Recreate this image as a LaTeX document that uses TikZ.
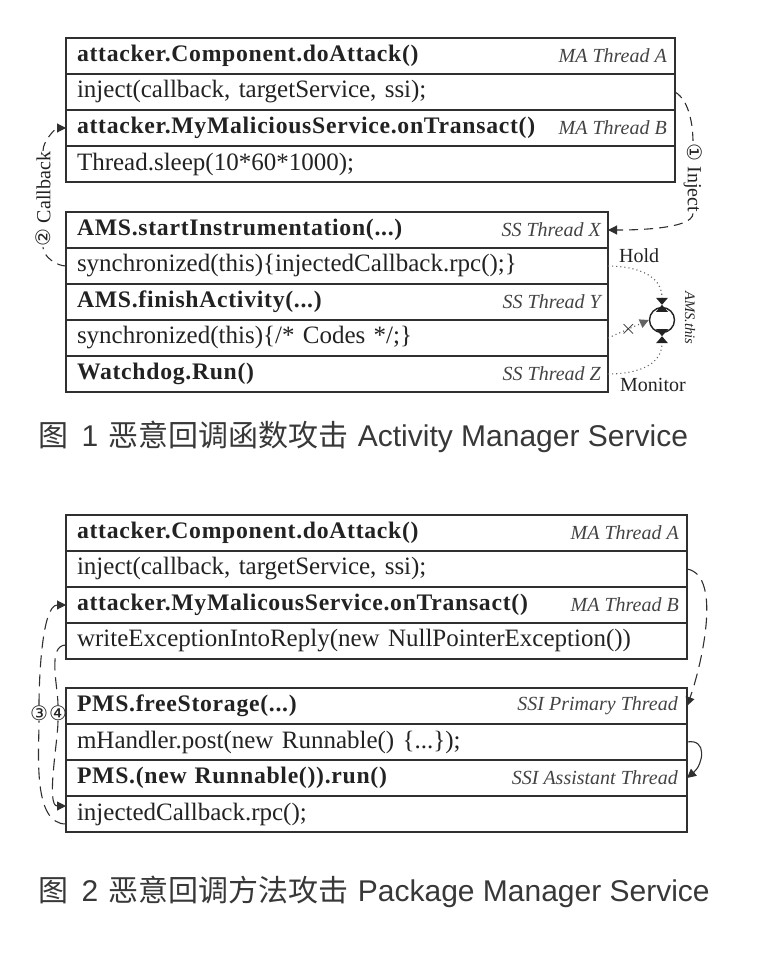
\documentclass[tikz,border=0pt]{standalone}
\usepackage{fontspec}
\setmainfont{Liberation Serif}
\setsansfont{Liberation Sans}
\newfontfamily\cjk{Noto Sans CJK SC}
\newfontfamily\symf{DejaVu Sans}
\usetikzlibrary{positioning,arrows.meta}

\definecolor{boxline}{HTML}{303030}
\definecolor{ink}{HTML}{222222}

\tikzset{
  row/.style={draw=boxline, line width=1.4pt, minimum height=36pt, text width=#1,
    inner xsep=11pt, inner ysep=0pt, outer sep=0pt, align=left, anchor=north west,
    text=ink, font=\fontsize{25}{27}\selectfont},
  head/.style={row=#1, font=\fontsize{23.7}{26}\selectfont\bfseries\addfontfeatures{LetterSpace=3}},
  thr/.style={anchor=east, inner sep=0pt, text=ink!85, font=\fontsize{20}{22}\selectfont\itshape},
  lbl/.style={inner sep=1pt, text=ink, font=\fontsize{20}{22}\selectfont},
  numc/.style={inner sep=0pt, text=ink, font=\symf\fontsize{20}{22}\selectfont},
  dashline/.style={draw=boxline, line width=1.1pt, dash pattern=on 9pt off 6pt},
  longdash/.style={draw=boxline, line width=1.1pt, dash pattern=on 12pt off 7pt},
  holdline/.style={draw=ink!70, line width=1.1pt, dash pattern=on 1.1pt off 3pt},
  tip/.style={-{Triangle[length=9pt,width=9pt]}},
  capt/.style={anchor=west, inner sep=0pt, text=ink!90, font=\sffamily\fontsize{30}{32}\selectfont}
}

\begin{document}
\begin{tikzpicture}[x=1pt, y=-1pt]
  \useasboundingbox (0,0) rectangle (764,956);

  % figure 1: attacker side
  \node[head=587pt] (a1) at (66,38) {attacker.Component.doAttack()};
  \node[row=587pt, below=0pt of a1] (a2) {inject(callback, targetService, ssi);};
  \node[head=587pt, below=0pt of a2] (a3) {attacker.MyMaliciousService.onTransact()};
  \node[row=587pt, below=0pt of a3] (a4) {Thread.sleep(10*60*1000);};
  \node[thr] at ([xshift=-8pt]a1.east) {MA Thread A};
  \node[thr] at ([xshift=-8pt]a3.east) {MA Thread B};

  % figure 1: system server side
  \node[head=520pt] (x1) at (66,212) {AMS.startInstrumentation(...)};
  \node[row=520pt, below=0pt of x1] (x2) {synchronized(this)\{injectedCallback.rpc();\}};
  \node[head=520pt, below=0pt of x2] (x3) {AMS.finishActivity(...)};
  \node[row=520pt, below=0pt of x3] (x4) {synchronized(this)\{/* Codes */;\}};
  \node[head=520pt, below=0pt of x4] (x5) {Watchdog.Run()};
  \node[thr] at ([xshift=-7pt]x1.east) {SS Thread X};
  \node[thr] at ([xshift=-7pt]x3.east) {SS Thread Y};
  \node[thr] at ([xshift=-7pt]x5.east) {SS Thread Z};

  % inject / callback
  \node[lbl, rotate=-90] (inj) at (693,178) {{\symf\fontsize{20}{22}\selectfont ①} Inject};
  \draw[dashline] (a2.east) to[out=-30, in=90, looseness=0.8] (inj.west);
  \draw[dashline, tip] (inj.east) to[out=-90, in=0, looseness=0.5] (x1.east);
  \node[lbl, rotate=90] (cbk) at (43,199) {{\symf\fontsize{20}{22}\selectfont ②} Callback};
  \draw[dashline] (x2.west) to[out=180, in=-90, looseness=0.8] (cbk.west);
  \draw[dashline, tip] (cbk.east) to[out=90, in=180, looseness=0.8] (a3.west);

  % lock on AMS.this
  \node[draw=ink, line width=1.4pt, circle, minimum size=25pt, inner sep=0pt] (lk) at (662,320) {};
  \node[lbl, rotate=-90, font=\fontsize{14.5}{16}\selectfont\itshape] (lkname) at (690,318) {AMS.this};
  \coordinate (hgt) at ([yshift=2pt]lk.north);
  \coordinate (hgb) at ([yshift=-3pt]lk.south);
  \fill[ink] (hgt) -- ++(-6,-7) -- ++(12,0) -- cycle (hgt) -- ++(-6,7) -- ++(12,0) -- cycle;
  \fill[ink] (hgb) -- ++(-6,-7) -- ++(12,0) -- cycle (hgb) -- ++(-6,7) -- ++(12,0) -- cycle;
  \draw[holdline] (x2.east) to[out=0, in=90] ([yshift=7pt]hgt);
  \draw[holdline] (x5.east) to[out=0, in=-90] ([yshift=-7pt]hgb);
  \draw[holdline, tip] (x4.east) -- node[pos=0.5, inner sep=0pt, text=ink, font=\fontsize{20}{20}\selectfont] {$\times$} (lk.west);
  \node[lbl, anchor=south west] (hold) at ([xshift=10pt, yshift=2pt]x2.east) {Hold};
  \node[lbl, anchor=north west] (mon) at ([xshift=11pt, yshift=-3pt]x5.east) {Monitor};

  \node[capt] (cap1) at (38,437) {{\cjk 图}\hspace{0.45em}1\hspace{0.35em}{\cjk 恶意回调函数攻击}\hspace{0.3em}Activity Manager Service};

  % figure 2: attacker side
  \node[head=599pt] (b1) at (66,515) {attacker.Component.doAttack()};
  \node[row=599pt, below=0pt of b1] (b2) {inject(callback, targetService, ssi);};
  \node[head=599pt, below=0pt of b2] (b3) {attacker.MyMalicousService.onTransact()};
  \node[row=599pt, below=0pt of b3] (b4) {writeExceptionIntoReply(new NullPointerException())};
  \node[thr] at ([xshift=-8pt]b1.east) {MA Thread A};
  \node[thr] at ([xshift=-8pt]b3.east) {MA Thread B};

  % figure 2: package manager side
  \node[head=599pt] (c1) at (66,688) {PMS.freeStorage(...)};
  \node[row=599pt, below=0pt of c1] (c2) {mHandler.post(new Runnable() \{...\});};
  \node[head=599pt, below=0pt of c2] (c3) {PMS.(new Runnable()).run()};
  \node[row=599pt, below=0pt of c3] (c4) {injectedCallback.rpc();};
  \node[thr] at ([xshift=-9pt]c1.east) {SSI Primary Thread};
  \node[thr] at ([xshift=-9pt]c3.east) {SSI Assistant Thread};

  \draw[longdash, tip] (b2.east) to[out=-10, in=70, looseness=0.7] (c1.east);
  \draw[draw=boxline, line width=1.1pt, tip] (c2.east) to[out=10, in=40, looseness=1.5] (c3.east);

  \node[numc] (n3) at (39,713) {③};
  \node[numc] (n4) at (58,713) {④};
  \draw[longdash] ([yshift=-10pt]c4.west) to[out=180, in=-90, looseness=0.8] (n3.south);
  \draw[longdash, tip] (n3.north) to[out=90, in=180, looseness=0.6] (b3.west);
  \draw[longdash] ([yshift=-4pt]b4.west) to[out=180, in=90, looseness=0.8] (n4.north);
  \draw[longdash, tip] (n4.south) to[out=-90, in=180, looseness=0.6] ([yshift=8pt]c4.west);

  \node[capt] (cap2) at (38,892) {{\cjk 图}\hspace{0.45em}2\hspace{0.35em}{\cjk 恶意回调方法攻击}\hspace{0.3em}Package Manager Service};
\end{tikzpicture}
\end{document}
